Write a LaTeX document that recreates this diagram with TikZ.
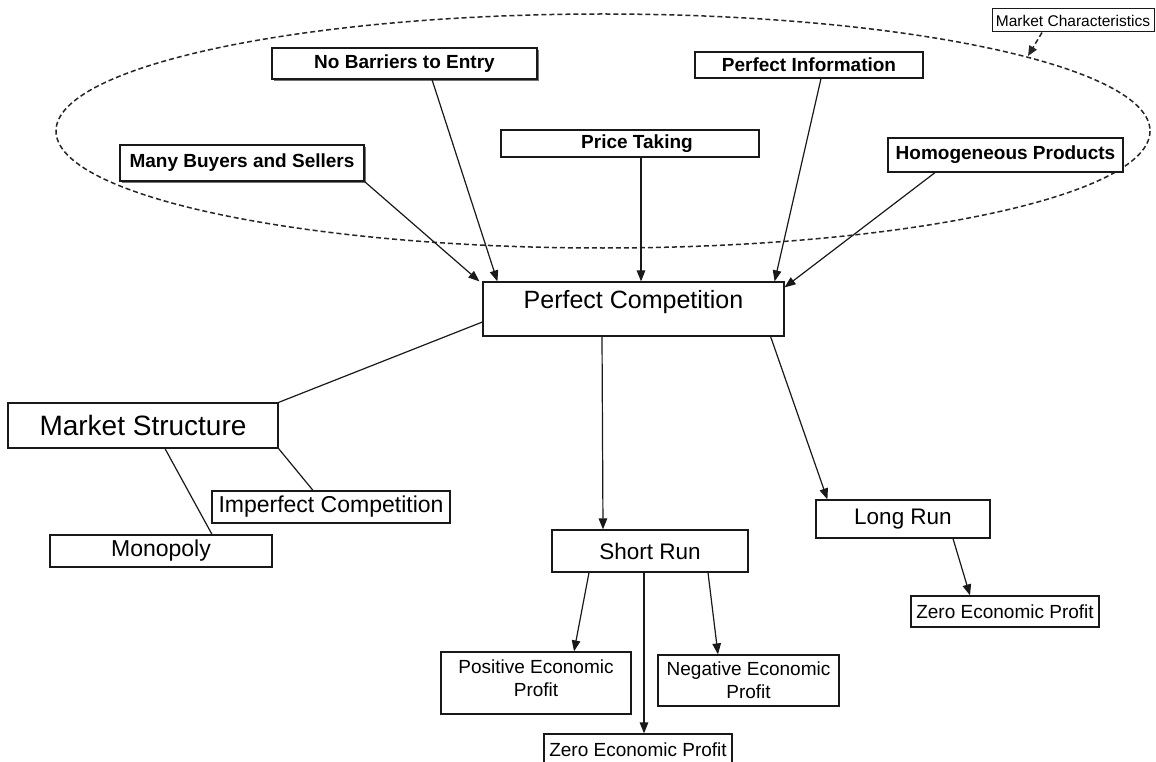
\documentclass[tikz,border=0pt]{standalone}
\usepackage{fontspec}
\setmainfont{Liberation Sans}
\usetikzlibrary{arrows.meta,shadows}
\begin{document}
\begin{tikzpicture}[x=1pt,y=-1pt,
  box/.style={draw=black!90, line width=1.2pt, fill=white, inner sep=0pt, align=center},
  charbox/.style={box, font=\fontsize{19}{22}\selectfont\bfseries},
  shadowed/.style={drop shadow={shadow xshift=1.6pt, shadow yshift=-1.6pt, fill=black!55, opacity=1}},
  smallbox/.style={box, font=\fontsize{19}{23}\selectfont},
  midbox/.style={box, font=\fontsize{22.5}{26}\selectfont},
  conn/.style={line width=1.2pt, draw=black!90},
  arr/.style={conn, -{Triangle[length=11pt,width=8.5pt]}},
  dashline/.style={line width=1.5pt, dash pattern=on 5pt off 3pt, draw=black!85}
]
\clip (0,0) rectangle (1156,762);
\fill[white] (0,0) rectangle (1156,762);

% dashed ellipse
\draw[dashline] (603,131) ellipse [x radius=547, y radius=117];

% market characteristics label
\node[box, line width=1pt, font=\fontsize{15.5}{18}\selectfont, minimum width=162, minimum height=23] (mc) at (1073,20.5) {Market Characteristics};
\coordinate (ellpt) at (1028,56);
\draw[dashline, -{Triangle[length=10pt,width=8.5pt]}] ([xshift=-31pt]mc.south) -- (ellpt);

% characteristics
\node[charbox, shadowed, minimum width=265, minimum height=31] (nb) at (404.5,63.5) {No Barriers to Entry};
\node[charbox, minimum width=228, minimum height=26] (pi) at (809,65) {Perfect Information};
\node[charbox, minimum width=258, minimum height=27] (pt) at (630,143.5) {\hspace{14pt}Price Taking};
\node[charbox, shadowed, minimum width=244, minimum height=36] (mb) at (242,163) {Many Buyers and Sellers};
\node[charbox, minimum width=235, minimum height=34] (hp) at (1005.5,155) {Homogeneous Products};

% central
\node[box, font=\fontsize{25}{29}\selectfont, minimum width=301, minimum height=54, text height=10pt, text depth=11pt] (pc) at (633.5,309) {Perfect Competition};

% market structure
\node[box, font=\fontsize{28}{32}\selectfont, minimum width=270, minimum height=45] (ms) at (143,425.5) {Market Structure};
\node[box, font=\fontsize{23}{26}\selectfont, minimum width=238, minimum height=32] (ic) at (331,507) {Imperfect Competition};
\node[box, font=\fontsize{23}{26}\selectfont, minimum width=222, minimum height=32] (mo) at (161,551) {Monopoly};

% runs
\node[midbox, minimum width=196, minimum height=42] (sr) at (650,551) {Short Run};
\node[midbox, minimum width=174, minimum height=38] (lr) at (903,519) {Long Run};
\node[smallbox, minimum width=188, minimum height=31] (zl) at (1005,611.5) {Zero Economic Profit};
\node[smallbox, minimum width=190, minimum height=62, text depth=10pt] (pe) at (536,683) {Positive Economic\\Profit};
\node[smallbox, minimum width=181, minimum height=51] (ne) at (748.5,680.5) {Negative Economic\\Profit};
\node[smallbox, minimum width=188, minimum height=31] (zs) at (638,749.5) {Zero Economic Profit};

% arrows into perfect competition
\draw[arr] (mb.south east) -- ([xshift=-3pt]pc.north west);
\draw[arr] ([xshift=27.5pt]nb.south) -- ([xshift=15pt]pc.north west);
\draw[arr] ([xshift=11pt]pt.south) -- ([xshift=7.5pt]pc.north);
\draw[arr] ([xshift=12pt]pi.south) -- ([xshift=-10pt]pc.north east);
\draw[arr] ([xshift=-70.5pt]hp.south) -- ([yshift=-6pt]pc.north east);

% market structure lines
\draw[conn] ([yshift=-13pt]pc.west) -- (ms.north east);
\draw[conn] ([xshift=22pt]ms.south) -- ([xshift=51pt]mo.north);
\draw[conn] (ms.south east) -- ([xshift=-18pt]ic.north);

% runs
\draw[arr] ([xshift=-31.5pt]pc.south) -- ([xshift=-47pt]sr.north);
\draw[arr] ([xshift=-14pt]pc.south east) -- ([xshift=12pt]lr.north west);
\draw[arr] ([xshift=-61pt]sr.south) -- ([xshift=38pt]pe.north);
\draw[arr] ([xshift=-6pt]sr.south) -- ([xshift=6pt]zs.north);
\draw[arr] ([xshift=58pt]sr.south) -- ([xshift=-30.5pt]ne.north);
\draw[arr] ([xshift=50pt]lr.south) -- ([xshift=-35pt]zl.north);
\end{tikzpicture}
\end{document}
